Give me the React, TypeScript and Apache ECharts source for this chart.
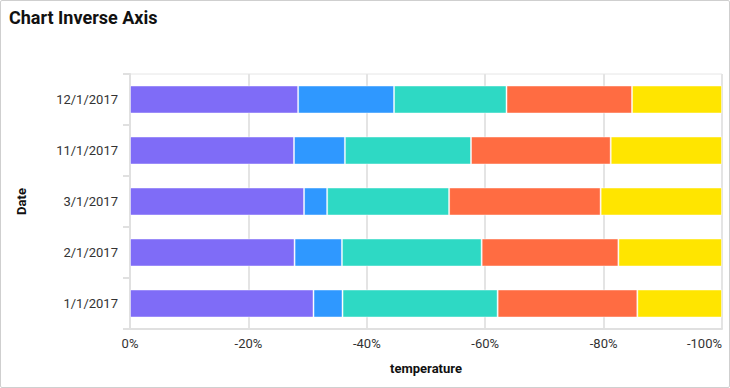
import React, { useEffect, useRef } from "react";
import * as echarts from "echarts";

const categories = ["1/1/2017", "2/1/2017", "3/1/2017", "11/1/2017", "12/1/2017"];
const seriesNames = ["Series 1", "Series 2", "Series 3", "Series 4", "Series 5"];
// share of each series per date, in percent
const series1 = [31.0, 27.8, 29.4, 27.7, 28.4];
const series2 = [4.9, 8.0, 3.9, 8.6, 16.2];
const series3 = [26.2, 23.6, 20.6, 21.3, 19.0];
const series4 = [23.6, 23.1, 25.6, 23.6, 21.2];
const series5 = [14.3, 17.5, 20.5, 18.8, 15.2];
const colors = ["#7F6CF7", "#2F98FF", "#2ED9C4", "#FF6C42", "#FFE500"];
const xTicks = [0, -20, -40, -60, -80, -100];

export default function App() {
  const ref = useRef<HTMLDivElement>(null);
  useEffect(() => {
    document.body.style.margin = "0";
    const chart = echarts.init(ref.current!, null, { renderer: "svg" });
    const all = [series1, series2, series3, series4, series5];
    chart.setOption({
      animation: false,
      textStyle: { fontFamily: "Roboto" },
      title: {
        text: "Chart Inverse Axis",
        left: 3,
        top: 2,
        textStyle: { fontFamily: "Roboto", fontSize: 18, fontWeight: "bold", color: "#111" },
      },
      grid: {
        left: 129,
        right: 7,
        top: 73,
        bottom: 58,
        show: true,
        borderColor: "#e6e6e6",
        borderWidth: 1,
        outerBoundsMode: "none",
        containLabel: false,
      },
      xAxis: {
        type: "value",
        min: -100,
        max: 0,
        interval: 20,
        inverse: true,
        name: "temperature",
        nameLocation: "middle",
        nameGap: 33,
        nameTextStyle: { fontFamily: "Roboto", fontSize: 13, fontWeight: "bold", color: "#111" },
        axisLine: { show: true, lineStyle: { color: "#e0e0e0", width: 2 } },
        axisTick: { show: false },
        axisLabel: {
          fontFamily: "Roboto",
          fontSize: 13,
          color: "#333",
          margin: 8,
          alignMinLabel: "right",
          formatter: (v: number) => (xTicks.includes(v) ? v + "%" : ""),
        },
        splitLine: { show: true, lineStyle: { color: "#e4e4e4", width: 2 } },
      },
      yAxis: {
        type: "category",
        data: categories,
        name: "Date",
        nameLocation: "middle",
        nameGap: 102,
        nameRotate: 90,
        nameTextStyle: { fontFamily: "Roboto", fontSize: 13, fontWeight: "bold", color: "#111" },
        axisLine: { show: true, lineStyle: { color: "#e0e0e0", width: 2 } },
        axisTick: { show: true, length: 7, lineStyle: { color: "#e0e0e0", width: 2 } },
        axisLabel: { fontFamily: "Roboto", fontSize: 13, color: "#333", margin: 12 },
        splitLine: { show: false },
      },
      series: all.map((d, i) => ({
        name: seriesNames[i],
        type: "bar",
        stack: "total",
        barWidth: 28,
        data: d.map((v) => -v),
        itemStyle: {
          color: colors[i],
          borderColor: "rgba(255,255,255,0.45)",
          borderWidth: 1,
        },
      })),
    });
    return () => chart.dispose();
  }, []);
  return (
    <div
      style={{
        position: "absolute",
        left: 0,
        top: 0,
        width: 730,
        height: 388,
        boxSizing: "border-box",
        border: "1px solid #cfcfcf",
        borderRadius: 2,
        background: "#fff",
      }}
    >
      <div ref={ref} style={{ width: 728, height: 386 }} />
    </div>
  );
}
